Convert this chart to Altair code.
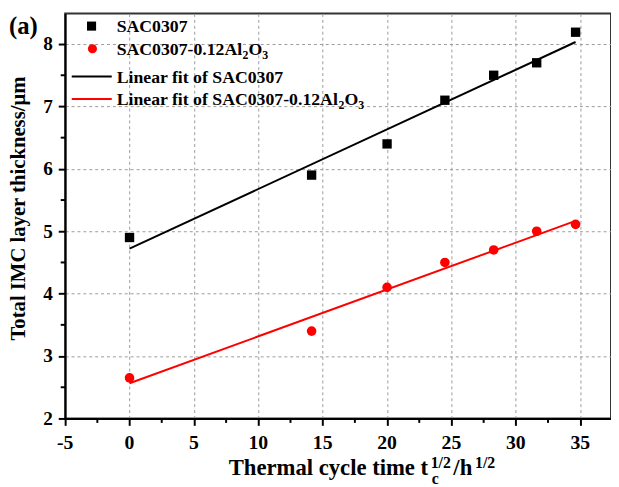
import altair as alt
import pandas as pd

# ---- data ----
x_vals = [0, 14.14, 20, 24.49, 28.28, 31.62, 34.64]
sac0307 = [4.9, 5.9, 6.4, 7.1, 7.5, 7.7, 8.19]
sac0307_al = [2.65, 3.4, 4.1, 4.5, 4.7, 5.0, 5.11]
x_ticks = [-5, 0, 5, 10, 15, 20, 25, 30, 35]
y_ticks = [2, 3, 4, 5, 6, 7, 8]
x_minor = [-2.5, 2.5, 7.5, 12.5, 17.5, 22.5, 27.5, 32.5]
y_minor = [2.5, 3.5, 4.5, 5.5, 6.5, 7.5]

FONT = "Liberation Serif"
W, H = 554, 411

df = pd.DataFrame({
    "x": x_vals * 2,
    "y": sac0307 + sac0307_al,
    "series": ["SAC0307"] * len(x_vals) + ["SAC0307-0.12Al2O3"] * len(x_vals),
})
one = pd.DataFrame({"a": [0]})

xscale = alt.Scale(domain=[-5, 37.39], nice=False, zero=False)
yscale = alt.Scale(domain=[2, 8.49], nice=False, zero=False)

xaxis = alt.Axis(values=x_ticks, labels=False, title=None)
yaxis = alt.Axis(values=y_ticks, labels=False, title=None)

X = alt.X("x:Q", scale=xscale, axis=xaxis)
Y = alt.Y("y:Q", scale=yscale, axis=yaxis)
color_scale = alt.Scale(domain=["SAC0307", "SAC0307-0.12Al2O3"], range=["#000000", "#ff0000"])

base = alt.Chart(df)

fits = base.mark_line(strokeWidth=2, clip=False).encode(
    x=X, y=Y, color=alt.Color("series:N", scale=color_scale, legend=None)
).transform_regression("x", "y", groupby=["series"])

squares = base.transform_filter(alt.datum.series == "SAC0307").mark_point(
    shape="square", filled=True, size=90, color="black", opacity=1
).encode(x=X, y=Y)

circles = base.transform_filter(alt.datum.series == "SAC0307-0.12Al2O3").mark_point(
    shape="circle", filled=True, size=95, color="#ff0000", opacity=1
).encode(x=X, y=Y)

# minor ticks
xm = alt.Chart(pd.DataFrame({"x": x_minor})).mark_rule(color="black", strokeWidth=2).encode(
    x=X, y=alt.value(H), y2=alt.value(H + 4.5)
)
ym = alt.Chart(pd.DataFrame({"y": y_minor})).mark_rule(color="black", strokeWidth=2).encode(
    y=Y, x=alt.value(0), x2=alt.value(-4.5)
)

def txt(s, x, y, size=18, align="left", angle=0, baseline="alphabetic", color="black"):
    kw = dict(font=FONT, fontWeight="bold", fontSize=size, color=color,
              align=align, baseline=baseline, text=s)
    if angle:
        kw["angle"] = angle
    return alt.Chart(one).mark_text(**kw).encode(x=alt.value(x), y=alt.value(y))

# tick labels, one text mark per tick, placed through the shared scales
xlab = [
    alt.Chart(one).mark_text(
        font=FONT, fontWeight="bold", fontSize=20, color="black", align="center",
        baseline="alphabetic", text=str(v)
    ).encode(x=alt.X(datum=v, scale=xscale, axis=xaxis), y=alt.value(442))
    for v in x_ticks
]
ylab = [
    alt.Chart(one).mark_text(
        font=FONT, fontWeight="bold", fontSize=19.5, color="black", align="right",
        baseline="alphabetic", dy=6.5, text=str(v)
    ).encode(y=alt.Y(datum=v, scale=yscale, axis=yaxis), x=alt.value(-12.5))
    for v in y_ticks
]

# legend
leg_sq = alt.Chart(one).mark_point(shape="square", filled=True, size=85, color="black", opacity=1).encode(
    x=alt.value(26.8), y=alt.value(12.8))
leg_ci = alt.Chart(one).mark_point(shape="circle", filled=True, size=85, color="#ff0000", opacity=1).encode(
    x=alt.value(27.7), y=alt.value(35.7))
leg_l1 = alt.Chart(one).mark_rule(color="black", strokeWidth=2).encode(
    x=alt.value(6.7), x2=alt.value(47.3), y=alt.value(64))
leg_l2 = alt.Chart(one).mark_rule(color="#ff0000", strokeWidth=2).encode(
    x=alt.value(6.7), x2=alt.value(47.3), y=alt.value(86.7))

legend_texts = [
    txt("SAC0307", 52.3, 19),
    txt("SAC0307-0.12Al", 52.3, 42),
    txt("2", 180, 46, size=12),
    txt("O", 186, 42),
    txt("3", 200, 46, size=12),
    txt("Linear fit of SAC0307", 52.3, 71),
    txt("Linear fit of SAC0307-0.12Al", 52.3, 93),
    txt("2", 277.5, 97, size=12),
    txt("O", 283.5, 93),
    txt("3", 297.5, 97, size=12),
]

# axis titles and panel label
titles = [
    txt("Thermal cycle time t", 166, 468, size=23),
    txt("c", 372, 478, size=16),
    txt("1/2", 371, 461, size=16),
    txt("/h", 394, 468, size=23),
    txt("1/2", 416, 461, size=16),
    txt("Total IMC layer thickness/μm", -41, 198, size=21, align="center", angle=270),
    txt("(a)", -57, 21, size=25),
]

chart = alt.layer(
    xm, ym, fits, squares, circles, *xlab, *ylab,
    leg_sq, leg_ci, leg_l1, leg_l2, *legend_texts, *titles
).properties(
    width=W, height=H,
    autosize=alt.AutoSizeParams(type="none"),
    padding={"left": 58, "top": 2, "right": 0, "bottom": 66},
).configure_view(
    stroke="#333333", strokeWidth=2
).configure_axis(
    grid=True, gridColor="#9a9a9a", gridDash=[3, 3], gridWidth=1,
    domainColor="black", domainWidth=2,
    tickColor="black", tickWidth=2, tickSize=7, labels=False,
)

chart.save("out.html", embed_options={"renderer": "svg", "actions": False})
